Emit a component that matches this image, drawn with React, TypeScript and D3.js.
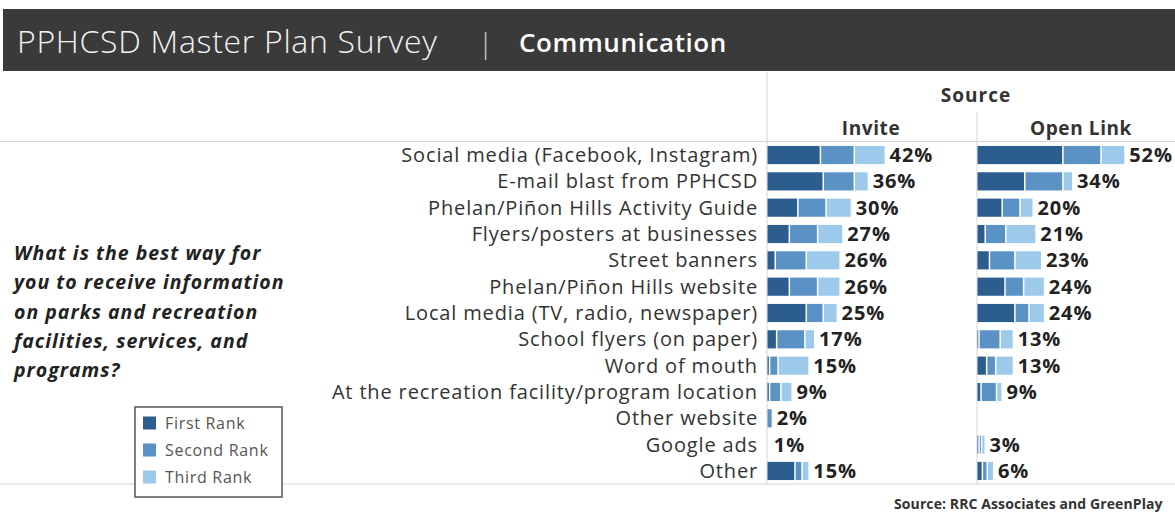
import React from "react";
import * as d3 from "d3";

const categories = [
  "Social media (Facebook, Instagram)",
  "E-mail blast from PPHCSD",
  "Phelan/Piñon Hills Activity Guide",
  "Flyers/posters at businesses",
  "Street banners",
  "Phelan/Piñon Hills website",
  "Local media (TV, radio, newspaper)",
  "School flyers (on paper)",
  "Word of mouth",
  "At the recreation facility/program location",
  "Other website",
  "Google ads",
  "Other",
];

const sources = ["Invite", "Open Link"];
const ranks = ["First Rank", "Second Rank", "Third Rank"];
const rankColors = ["#2c5d8f", "#5b92c6", "#9dcaeb"];

// [first, second, third] per category
const inviteFirst = [19, 20, 11, 8, 3, 8, 14, 3.5, 1, 1, 0, 0.3, 10];
const inviteSecond = [12, 11, 10, 10, 11, 10, 6, 10, 3, 4, 2, 0.3, 2.5];
const inviteThird = [11, 5, 9, 9, 12, 8, 5, 3.5, 11, 4, 0, 0.4, 2.5];
const inviteTotals = ["42%", "36%", "30%", "27%", "26%", "26%", "25%", "17%", "15%", "9%", "2%", "1%", "15%"];

const openFirst = [30.5, 17, 9, 3, 4.5, 10, 13.5, 0.8, 3.5, 1.5, null, 0.8, 2];
const openSecond = [13.5, 13.5, 6.3, 7.3, 9, 6.6, 5, 7.5, 3.2, 5.5, null, 0.9, 1.7];
const openThird = [8.5, 3.5, 4.7, 10.7, 9.5, 7.4, 5.5, 4.7, 6.3, 2, null, 1.3, 2.3];
const openTotals = ["52%", "34%", "20%", "21%", "23%", "24%", "24%", "13%", "13%", "9%", "", "3%", "6%"];

const questionLines = [
  "What is the best way for",
  "you to receive information",
  "on parks and recreation",
  "facilities, services, and",
  "programs?",
];

const W = 1175;
const H = 512;
const FONT = "'Open Sans', 'Noto Sans', sans-serif";

export default function App() {
  const y = d3.scaleBand<string>().domain(categories).range([142, 484]).paddingInner(0.31).paddingOuter(0.15);
  const colX0 = [767, 977];
  const x = d3.scaleLinear().domain([0, 74]).range([0, 209]);

  const seriesData = [
    { first: inviteFirst, second: inviteSecond, third: inviteThird, totals: inviteTotals },
    { first: openFirst, second: openSecond, third: openThird, totals: openTotals },
  ];

  const legendY = d3.scalePoint<string>().domain(ranks).range([423, 477]);
  const qY = d3.scalePoint<string>().domain(questionLines).range([260, 377]);

  return (
    <svg width={W} height={H} style={{ position: "absolute", left: 0, top: 0, background: "#fff" }} fontFamily={FONT}>
      {/* header */}
      <rect x={3} y={9} width={W - 3} height={62} fill="#3a3a3a" />
      <text x={17} y={53} fill="#f2f2f2" fontSize={32} fontWeight={300} letterSpacing={0.7}>PPHCSD Master Plan Survey</text>
      <text x={478} y={53} fill="#cfcfcf" fontSize={28} fontWeight={300}>|</text>
      <text x={519} y={52} fill="#ffffff" fontSize={26} fontWeight={600} letterSpacing={0.6}>Communication</text>

      {/* grid lines */}
      <line x1={0} x2={W} y1={141.5} y2={141.5} stroke="#d6d6d6" strokeWidth={1.2} />
      <line x1={0} x2={W} y1={484} y2={484} stroke="#d6d6d6" strokeWidth={1.2} />
      <line x1={767} x2={767} y1={72} y2={484} stroke="#dcdcdc" strokeWidth={1.2} />
      <line x1={977} x2={977} y1={112} y2={484} stroke="#dcdcdc" strokeWidth={1.2} />

      {/* column headers */}
      <text x={976} y={102} textAnchor="middle" fontSize={19} fontWeight={700} fill="#333" letterSpacing={1}>Source</text>
      {sources.map((s, i) => (
        <text key={s} x={i === 0 ? 871 : 1081} y={135} textAnchor="middle" fontSize={19} fontWeight={700} fill="#333" letterSpacing={0.6}>{s}</text>
      ))}

      {/* row labels */}
      {categories.map((c) => (
        <text key={c} x={758} y={(y(c) as number) + y.bandwidth() / 2 + 7} textAnchor="end" fontSize={20} letterSpacing={0.85} fill="#333">{c}</text>
      ))}

      {/* bars */}
      {seriesData.map((sd, si) => (
        <g key={si}>
          {categories.map((c, ci) => {
            const vals = [sd.first[ci], sd.second[ci], sd.third[ci]];
            if (vals[0] === null) return null;
            let acc = 0;
            const rects = vals.map((v, ri) => {
              const x0 = colX0[si] + x(acc);
              acc += v as number;
              const w = x(v as number);
              return (
                <rect key={ri} x={x0 + 0.5} y={y(c) as number} width={Math.max(0, w - 1.5)} height={y.bandwidth()} fill={rankColors[ri]} />
              );
            });
            const end = colX0[si] + x(acc);
            return (
              <g key={c}>
                {rects}
                <text x={end + 4} y={(y(c) as number) + y.bandwidth() / 2 + 7} fontSize={20} fontWeight={700} letterSpacing={0.9} fill="#222">{sd.totals[ci]}</text>
              </g>
            );
          })}
        </g>
      ))}

      {/* question */}
      {questionLines.map((l) => (
        <text key={l} x={14} y={qY(l) as number} fontSize={19.5} fontWeight={700} fontStyle="italic" letterSpacing={1} fill="#222">{l}</text>
      ))}

      {/* legend */}
      <rect x={135} y={407} width={147} height={90} fill="#fff" stroke="#555" strokeWidth={1.5} />
      {ranks.map((r, i) => (
        <g key={r}>
          <rect x={143} y={(legendY(r) as number) - 6.5} width={13} height={13} fill={rankColors[i]} />
          <text x={165} y={(legendY(r) as number) + 5.5} fontSize={16} letterSpacing={0.7} fill="#555">{r}</text>
        </g>
      ))}

      {/* footer */}
      <text x={894} y={509} fontSize={14} fontWeight={700} letterSpacing={0.1} fill="#333">Source: RRC Associates and GreenPlay</text>
    </svg>
  );
}
